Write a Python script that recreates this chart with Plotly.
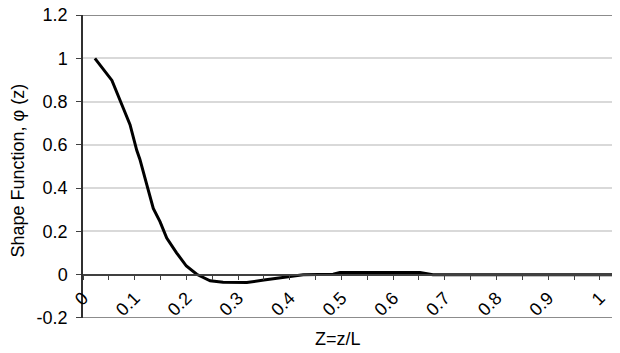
import plotly.graph_objects as go

# Data
z_over_L = [0.023, 0.056, 0.078, 0.091, 0.104, 0.110, 0.123, 0.136, 0.149, 0.162,
            0.181, 0.200, 0.220, 0.246, 0.271, 0.300, 0.317, 0.350, 0.400, 0.426,
            0.484, 0.497, 0.550, 0.600, 0.652, 0.677, 0.750, 0.850, 0.950, 1.025]
shape_fn = [1.000, 0.898, 0.769, 0.693, 0.575, 0.534, 0.420, 0.306, 0.245, 0.169,
            0.101, 0.040, 0.002, -0.028, -0.035, -0.037, -0.036, -0.025, -0.010, 0.000,
            0.002, 0.010, 0.010, 0.010, 0.010, 0.000, 0.000, 0.000, 0.000, 0.000]

x_range = [0, 1.039]
y_range = [-0.2002, 1.2002]
y_ticks = [-0.2, 0, 0.2, 0.4, 0.6, 0.8, 1.0, 1.2]
y_tick_labels = ["-0.2", "0", "0.2", "0.4", "0.6", "0.8", "1", "1.2"]
x_ticks = [0, 0.1, 0.2, 0.3, 0.4, 0.5, 0.6, 0.7, 0.8, 0.9, 1.0]
x_tick_labels = ["0", "0.1", "0.2", "0.3", "0.4", "0.5", "0.6", "0.7", "0.8", "0.9", "1"]

font_family = "Liberation Sans, Arial, sans-serif"
tick_size = 18
title_size = 18

fig = go.Figure()
fig.add_trace(go.Scatter(x=z_over_L, y=shape_fn, mode="lines",
                         line=dict(color="black", width=3), showlegend=False,
                         cliponaxis=False))

zero_pos = (0 - y_range[0]) / (y_range[1] - y_range[0])

# the page body keeps its default 8px margin, so the figure is 8px smaller
# and its margins are shifted to put the plot area where the reference has it
fig.update_layout(
    width=612, height=345,
    margin=dict(l=75, r=0, t=7, b=35, autoexpand=False),
    paper_bgcolor="white", plot_bgcolor="white",
    font=dict(family=font_family, size=tick_size, color="black"),
    xaxis=dict(range=x_range, anchor="free", position=zero_pos,
               tickvals=x_ticks, ticktext=x_tick_labels, tickangle=-45,
               ticks="outside", ticklen=5, tickcolor="#404040", tickwidth=1,
               minor=dict(dtick=0.05, tick0=0, ticks="outside", ticklen=5,
                          tickcolor="#404040", showgrid=False),
               showline=True, linecolor="#404040", linewidth=1.5,
               showgrid=False, zeroline=False, automargin=False,
               ticklabeloverflow="allow",
               tickfont=dict(size=tick_size, family=font_family)),
    yaxis=dict(range=y_range, tickvals=y_ticks, ticktext=y_tick_labels,
               ticks="outside", ticklen=5, tickcolor="#404040",
               showline=True, linecolor="#303030", linewidth=1.5,
               showgrid=True, gridcolor="#d9d9d9", gridwidth=1.5,
               zeroline=False, ticklabelstandoff=5, automargin=False,
               ticklabeloverflow="allow",
               tickfont=dict(size=tick_size, family=font_family)),
    shapes=[
        dict(type="line", xref="paper", yref="y", x0=0, x1=1, y0=1.2, y1=1.2,
             line=dict(color="#8c8c8c", width=2)),
        dict(type="line", xref="paper", yref="y", x0=0, x1=1, y0=-0.2, y1=-0.2,
             line=dict(color="#8c8c8c", width=2)),
    ],
    annotations=[
        dict(text="Z=z/L", xref="paper", yref="paper", x=(338 - 83) / 537, y=0,
             yshift=-21, showarrow=False, xanchor="center", yanchor="middle",
             font=dict(size=title_size, family=font_family)),
        dict(text="Shape Function, φ (z)", xref="paper", yref="paper", x=0, y=0.5,
             xshift=-66, yshift=-4, textangle=-90, showarrow=False,
             xanchor="center", yanchor="middle",
             font=dict(size=title_size, family=font_family)),
    ],
)

fig.write_html("out.html")
